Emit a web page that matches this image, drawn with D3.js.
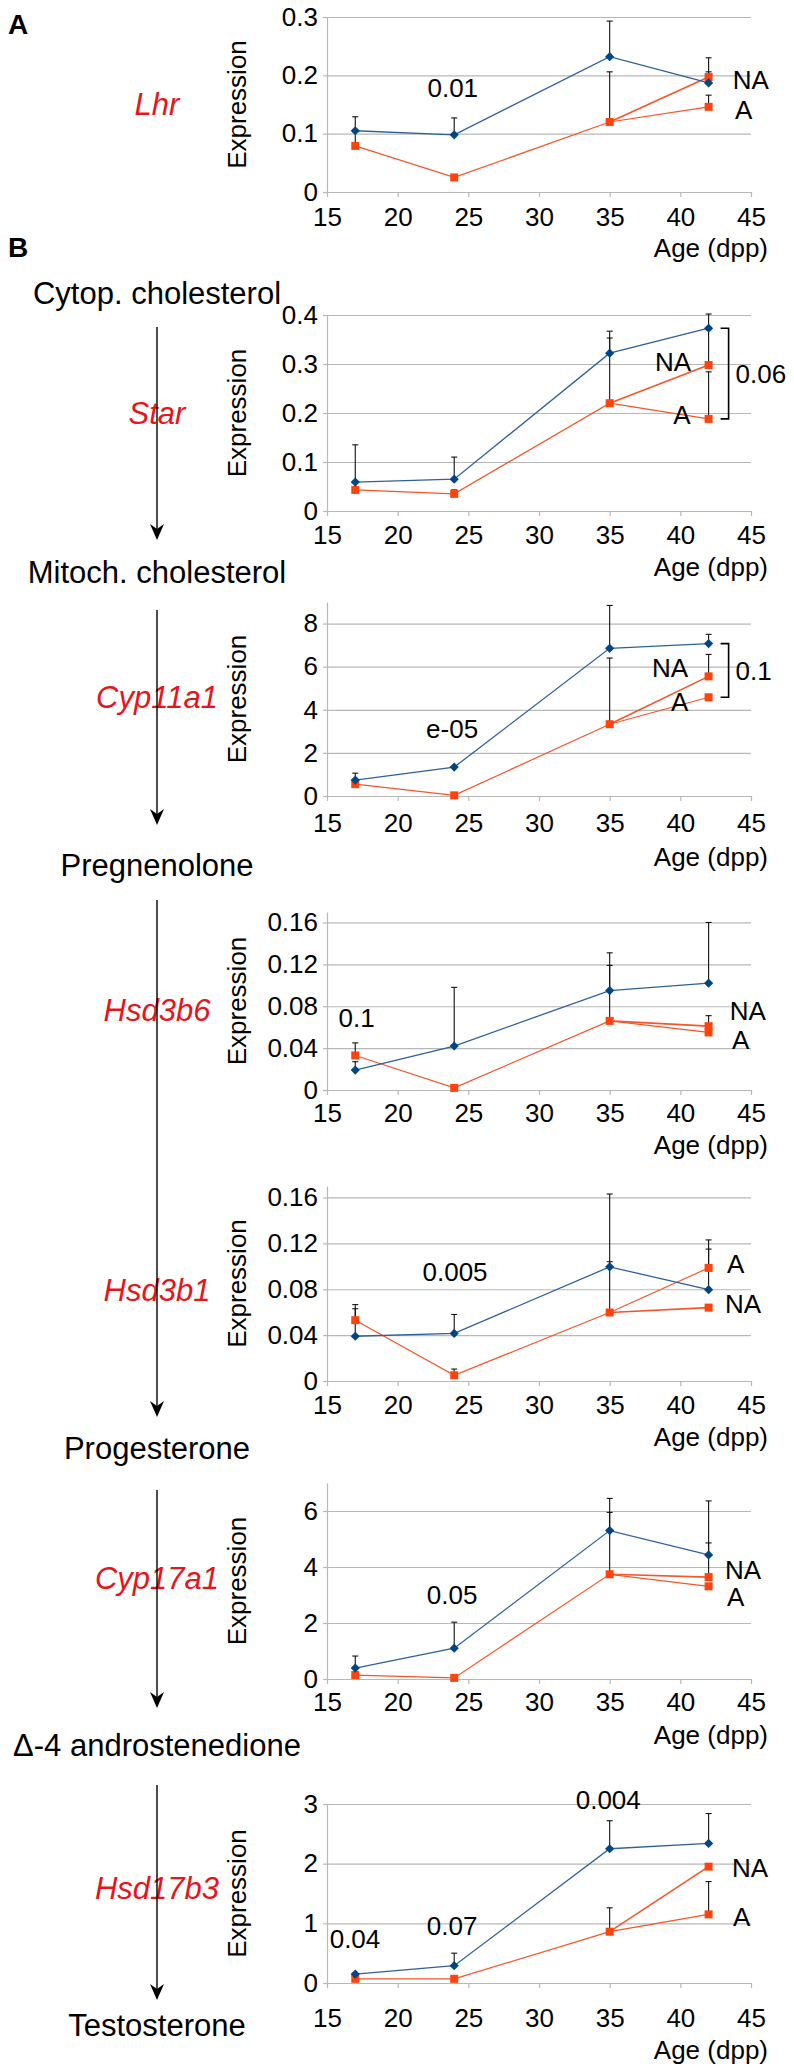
<!DOCTYPE html>
<html>
<head>
<meta charset="utf-8">
<script src="https://cdn.jsdelivr.net/npm/d3@7"></script>
<style>
  body { margin: 0; background: #fff; }
  svg text { font-family: "Liberation Sans", Arial, sans-serif; }
</style>
</head>
<body>
<svg id="fig" width="794" height="2072"></svg>
<script>
// ---- data ----
const ages = [17, 24, 35, 42];
const xTicks = [15, 20, 25, 30, 35, 40, 45];
const genes = ['Lhr', 'Star', 'Cyp11a1', 'Hsd3b6', 'Hsd3b1', 'Cyp17a1', 'Hsd17b3'];
const metabolites = ['Cytop. cholesterol', 'Mitoch. cholesterol', 'Pregnenolone',
  'Progesterone', '\u0394-4 androstenedione', 'Testosterone'];
const yMax = [0.3, 0.4, 9, 0.17, 0.17, 7, 3];
const yStep = [0.1, 0.1, 2, 0.04, 0.04, 2, 1];
const yFormat = ['.1f', '.1f', 'd', '.2f', '.2f', 'd', 'd'];

// blue series (all four ages) and top of its error bars
const blueMean = [
  [0.105, 0.098, 0.232, 0.187],
  [0.059, 0.065, 0.322, 0.373],
  [0.74, 1.34, 6.85, 7.07],
  [0.019, 0.042, 0.095, 0.102],
  [0.039, 0.0415, 0.0995, 0.0796],
  [0.39, 1.1, 5.3, 4.43],
  [0.15, 0.29, 2.25, 2.34]
];
const blueErr = [
  [0.129, 0.127, 0.293, 0.230],
  [0.135, 0.110, 0.367, 0.402],
  [1.06, null, 8.84, 7.5],
  [0.027, 0.098, 0.131, 0.160],
  [0.063, 0.058, 0.163, 0.115],
  [0.82, 2.03, 6.45, 6.36],
  [null, 0.5, 2.72, 2.84]
];
// red series at 17, 24, 35 dpp, then split at 42 dpp into NA and A
const redMean = [
  [0.079, 0.025, 0.120],
  [0.043, 0.035, 0.220],
  [0.55, 0.03, 3.33],
  [0.033, 0.002, 0.066],
  [0.053, 0.005, 0.0597],
  [0.14, 0.04, 3.74],
  [0.07, 0.07, 0.86]
];
const redErr = [
  [0.103, null, 0.206],
  [null, 0.043, 0.353],
  [null, null, 6.4],
  [0.045, 0.004, 0.119],
  [0.0666, 0.0104, 0.104],
  [null, null, 5.95],
  [null, null, 1.26]
];
const naMean = [0.197, 0.298, 5.55, 0.061, 0.064, 3.64, 1.95];
const naErr = [0.206, 0.37, 6.57, 0.071, null, 4.86, null];
const aMean = [0.146, 0.188, 4.58, 0.055, 0.0986, 3.31, 1.15];
const aErr = [0.166, 0.284, null, null, 0.123, null, 1.7];

// text annotations: [text, age, value]
const pValues = [
  [['0.01', 23.9, 0.178]],
  [],
  [['e-05', 23.85, 3.1]],
  [['0.1', 17.1, 0.0686]],
  [['0.005', 24.06, 0.095]],
  [['0.05', 23.85, 3.0]],
  [['0.04', 16.98, 0.737], ['0.07', 23.85, 0.955], ['0.004', 34.9, 3.07]]
];
// NA / A end labels: [age, value]
const naLabel = [[43.7, 0.192], [38.2, 0.304], [38.0, 5.93], [43.5, 0.076],
  [43.16, 0.0675], [43.16, 3.89], [43.66, 1.93]];
const aLabel = [[43.87, 0.141], [39.5, 0.196], [39.34, 4.35], [43.66, 0.048],
  [43.3, 0.102], [43.3, 2.93], [43.73, 1.11]];
// brackets between blue and A at 42 dpp: [text] or null
const bracketText = [null, '0.06', '0.1', null, null, null, null];

// ---- layout ----
const xLeft = 327, xRight = 751;
const panelTop = [17, 315, 602, 912, 1186, 1483, 1804];
const panelZero = [192, 511, 796, 1090, 1381, 1679, 1983];
const tickOff = [25, 24, 27, 23, 24, 23, 35];
const ageOff = [56, 56, 61, 55, 56, 56, 67];
const geneY = [104, 413, 697, 1010, 1290, 1578, 1888];
const metaboliteY = [293, 572, 865, 1448, 1745, 2025];
const arrows = [[327, 540], [610, 825], [900, 1417], [1490, 1708], [1785, 2000]];
const colX = 157;

const blue = '#004586', blueLine = '#2f609a';
const red = '#ff420e', redLine = '#f4562a';
const grid = '#b8b8b8';

const svg = d3.select('#fig');
const xScale = d3.scaleLinear().domain([15, 45]).range([xLeft, xRight]);

const diamond = 'M0,-4.6L4.6,0L0,4.6L-4.6,0Z';

genes.forEach((gene, i) => {
  const yScale = d3.scaleLinear().domain([0, yMax[i]]).range([panelZero[i], panelTop[i]]);
  const n = Math.floor(yMax[i] / yStep[i] + 1e-9);
  const yTicks = d3.range(0, n + 1).map(k => +(k * yStep[i]).toFixed(4));
  const fmt = d => d === 0 ? '0' : d3.format(yFormat[i])(d);
  const g = svg.append('g').attr('class', 'panel');

  // grid lines
  g.append('g')
    .attr('transform', `translate(${xLeft},0)`)
    .call(d3.axisLeft(yScale).tickValues(yTicks.slice(1)).tickSize(-(xRight - xLeft)).tickFormat(''))
    .call(a => a.select('.domain').remove())
    .call(a => a.selectAll('line').attr('stroke', grid).attr('stroke-width', 1.2));

  // y axis
  const yAxisG = g.append('g')
    .attr('transform', `translate(${xLeft},0)`)
    .call(d3.axisLeft(yScale).tickValues(yTicks).tickSize(4).tickSizeOuter(0).tickPadding(5).tickFormat(fmt));
  yAxisG.select('.domain').attr('stroke', grid).attr('stroke-width', 1.2);
  yAxisG.selectAll('line').attr('stroke', grid).attr('stroke-width', 1.2);
  yAxisG.selectAll('text').attr('font-size', 26).attr('fill', '#000')
    .attr('font-family', '"Liberation Sans", Arial, sans-serif');

  // x axis
  const xAxisG = g.append('g')
    .attr('transform', `translate(0,${panelZero[i]})`)
    .call(d3.axisBottom(xScale).tickValues(xTicks).tickSize(5).tickSizeOuter(0)
      .tickPadding(tickOff[i] - 14).tickFormat(d3.format('d')));
  xAxisG.select('.domain').attr('stroke', grid).attr('stroke-width', 1.2);
  xAxisG.selectAll('line').attr('stroke', grid).attr('stroke-width', 1.2);
  xAxisG.selectAll('text').attr('font-size', 26).attr('fill', '#000')
    .attr('font-family', '"Liberation Sans", Arial, sans-serif');

  g.append('text')
    .attr('x', 768).attr('y', panelZero[i] + ageOff[i]).attr('dy', '0.35em')
    .attr('text-anchor', 'end').attr('font-size', 26).text('Age (dpp)');

  g.append('text')
    .attr('transform', `translate(246,${(panelTop[i] + panelZero[i]) / 2}) rotate(-90)`)
    .attr('text-anchor', 'middle').attr('font-size', 26).text('Expression');

  // series
  const blueData = ages.map((a, k) => ({ age: a, v: blueMean[i][k], e: blueErr[i][k] }));
  const redData = ages.slice(0, 3).map((a, k) => ({ age: a, v: redMean[i][k], e: redErr[i][k] }));
  const naPt = { age: 42, v: naMean[i], e: naErr[i] };
  const aPt = { age: 42, v: aMean[i], e: aErr[i] };
  const line = d3.line().x(d => xScale(d.age)).y(d => yScale(d.v));

  g.append('path').datum(redData.concat([aPt]))
    .attr('d', line).attr('fill', 'none').attr('stroke', redLine).attr('stroke-width', 1.2);
  g.append('path').datum([redData[2], naPt])
    .attr('d', line).attr('fill', 'none').attr('stroke', redLine).attr('stroke-width', 1.6);
  g.append('path').datum(blueData)
    .attr('d', line).attr('fill', 'none').attr('stroke', blueLine).attr('stroke-width', 1.3);

  const errData = blueData.concat(redData, [naPt, aPt]).filter(d => d.e != null);
  const eg = g.append('g').attr('stroke', '#111').attr('stroke-width', 1.1);
  eg.selectAll('line.bar').data(errData).join('line').attr('class', 'bar')
    .attr('x1', d => xScale(d.age)).attr('x2', d => xScale(d.age))
    .attr('y1', d => yScale(d.v)).attr('y2', d => yScale(d.e));
  eg.selectAll('line.cap').data(errData).join('line').attr('class', 'cap')
    .attr('x1', d => xScale(d.age) - 3).attr('x2', d => xScale(d.age) + 3)
    .attr('y1', d => yScale(d.e)).attr('y2', d => yScale(d.e));

  g.selectAll('rect.red').data(redData.concat([naPt, aPt])).join('rect').attr('class', 'red')
    .attr('x', d => xScale(d.age) - 4).attr('y', d => yScale(d.v) - 4)
    .attr('width', 8).attr('height', 8).attr('fill', red);
  g.selectAll('path.blue').data(blueData).join('path').attr('class', 'blue')
    .attr('d', diamond)
    .attr('transform', d => `translate(${xScale(d.age)},${yScale(d.v)})`)
    .attr('fill', blue);

  // annotations
  pValues[i].forEach(([t, a, v]) => {
    g.append('text').attr('x', xScale(a)).attr('y', yScale(v)).attr('dy', '0.35em')
      .attr('text-anchor', 'middle').attr('font-size', 26).text(t);
  });
  g.append('text').attr('x', xScale(naLabel[i][0])).attr('y', yScale(naLabel[i][1]))
    .attr('dy', '0.35em').attr('font-size', 26).text('NA');
  g.append('text').attr('x', xScale(aLabel[i][0])).attr('y', yScale(aLabel[i][1]))
    .attr('dy', '0.35em').attr('font-size', 26).text('A');

  if (bracketText[i]) {
    const bx1 = xScale(42) + 12, bx2 = xScale(42) + 20;
    const by1 = yScale(blueMean[i][3]), by2 = yScale(aMean[i]);
    g.append('path').attr('d', `M${bx1},${by1}H${bx2}V${by2}H${bx1}`)
      .attr('fill', 'none').attr('stroke', '#000').attr('stroke-width', 1.6);
    g.append('text').attr('x', bx2 + 7).attr('y', (by1 + by2) / 2).attr('dy', '0.35em')
      .attr('font-size', 26).text(bracketText[i]);
  }

  // gene name in the pathway column
  svg.append('text').attr('x', colX).attr('y', geneY[i]).attr('dy', '0.35em')
    .attr('text-anchor', 'middle').attr('font-size', 31).attr('font-style', 'italic')
    .attr('fill', '#e8141b').text(gene);
});

// pathway column
svg.selectAll('text.metab').data(metabolites).join('text').attr('class', 'metab')
  .attr('x', colX).attr('y', (d, k) => metaboliteY[k]).attr('dy', '0.35em')
  .attr('text-anchor', 'middle').attr('font-size', 31).text(d => d);

const ag = svg.append('g');
arrows.forEach(([y1, y2]) => {
  ag.append('line').attr('x1', colX).attr('x2', colX).attr('y1', y1).attr('y2', y2 - 8)
    .attr('stroke', '#000').attr('stroke-width', 1.4);
  ag.append('path')
    .attr('d', `M${colX},${y2}L${colX - 7},${y2 - 16}L${colX},${y2 - 11}L${colX + 7},${y2 - 16}Z`)
    .attr('fill', '#000');
});

// panel letters
svg.append('text').attr('x', 8).attr('y', 24).attr('dy', '0.35em')
  .attr('font-size', 28).attr('font-weight', 'bold').text('A');
svg.append('text').attr('x', 8).attr('y', 247).attr('dy', '0.35em')
  .attr('font-size', 28).attr('font-weight', 'bold').text('B');
</script>
</body>
</html>
